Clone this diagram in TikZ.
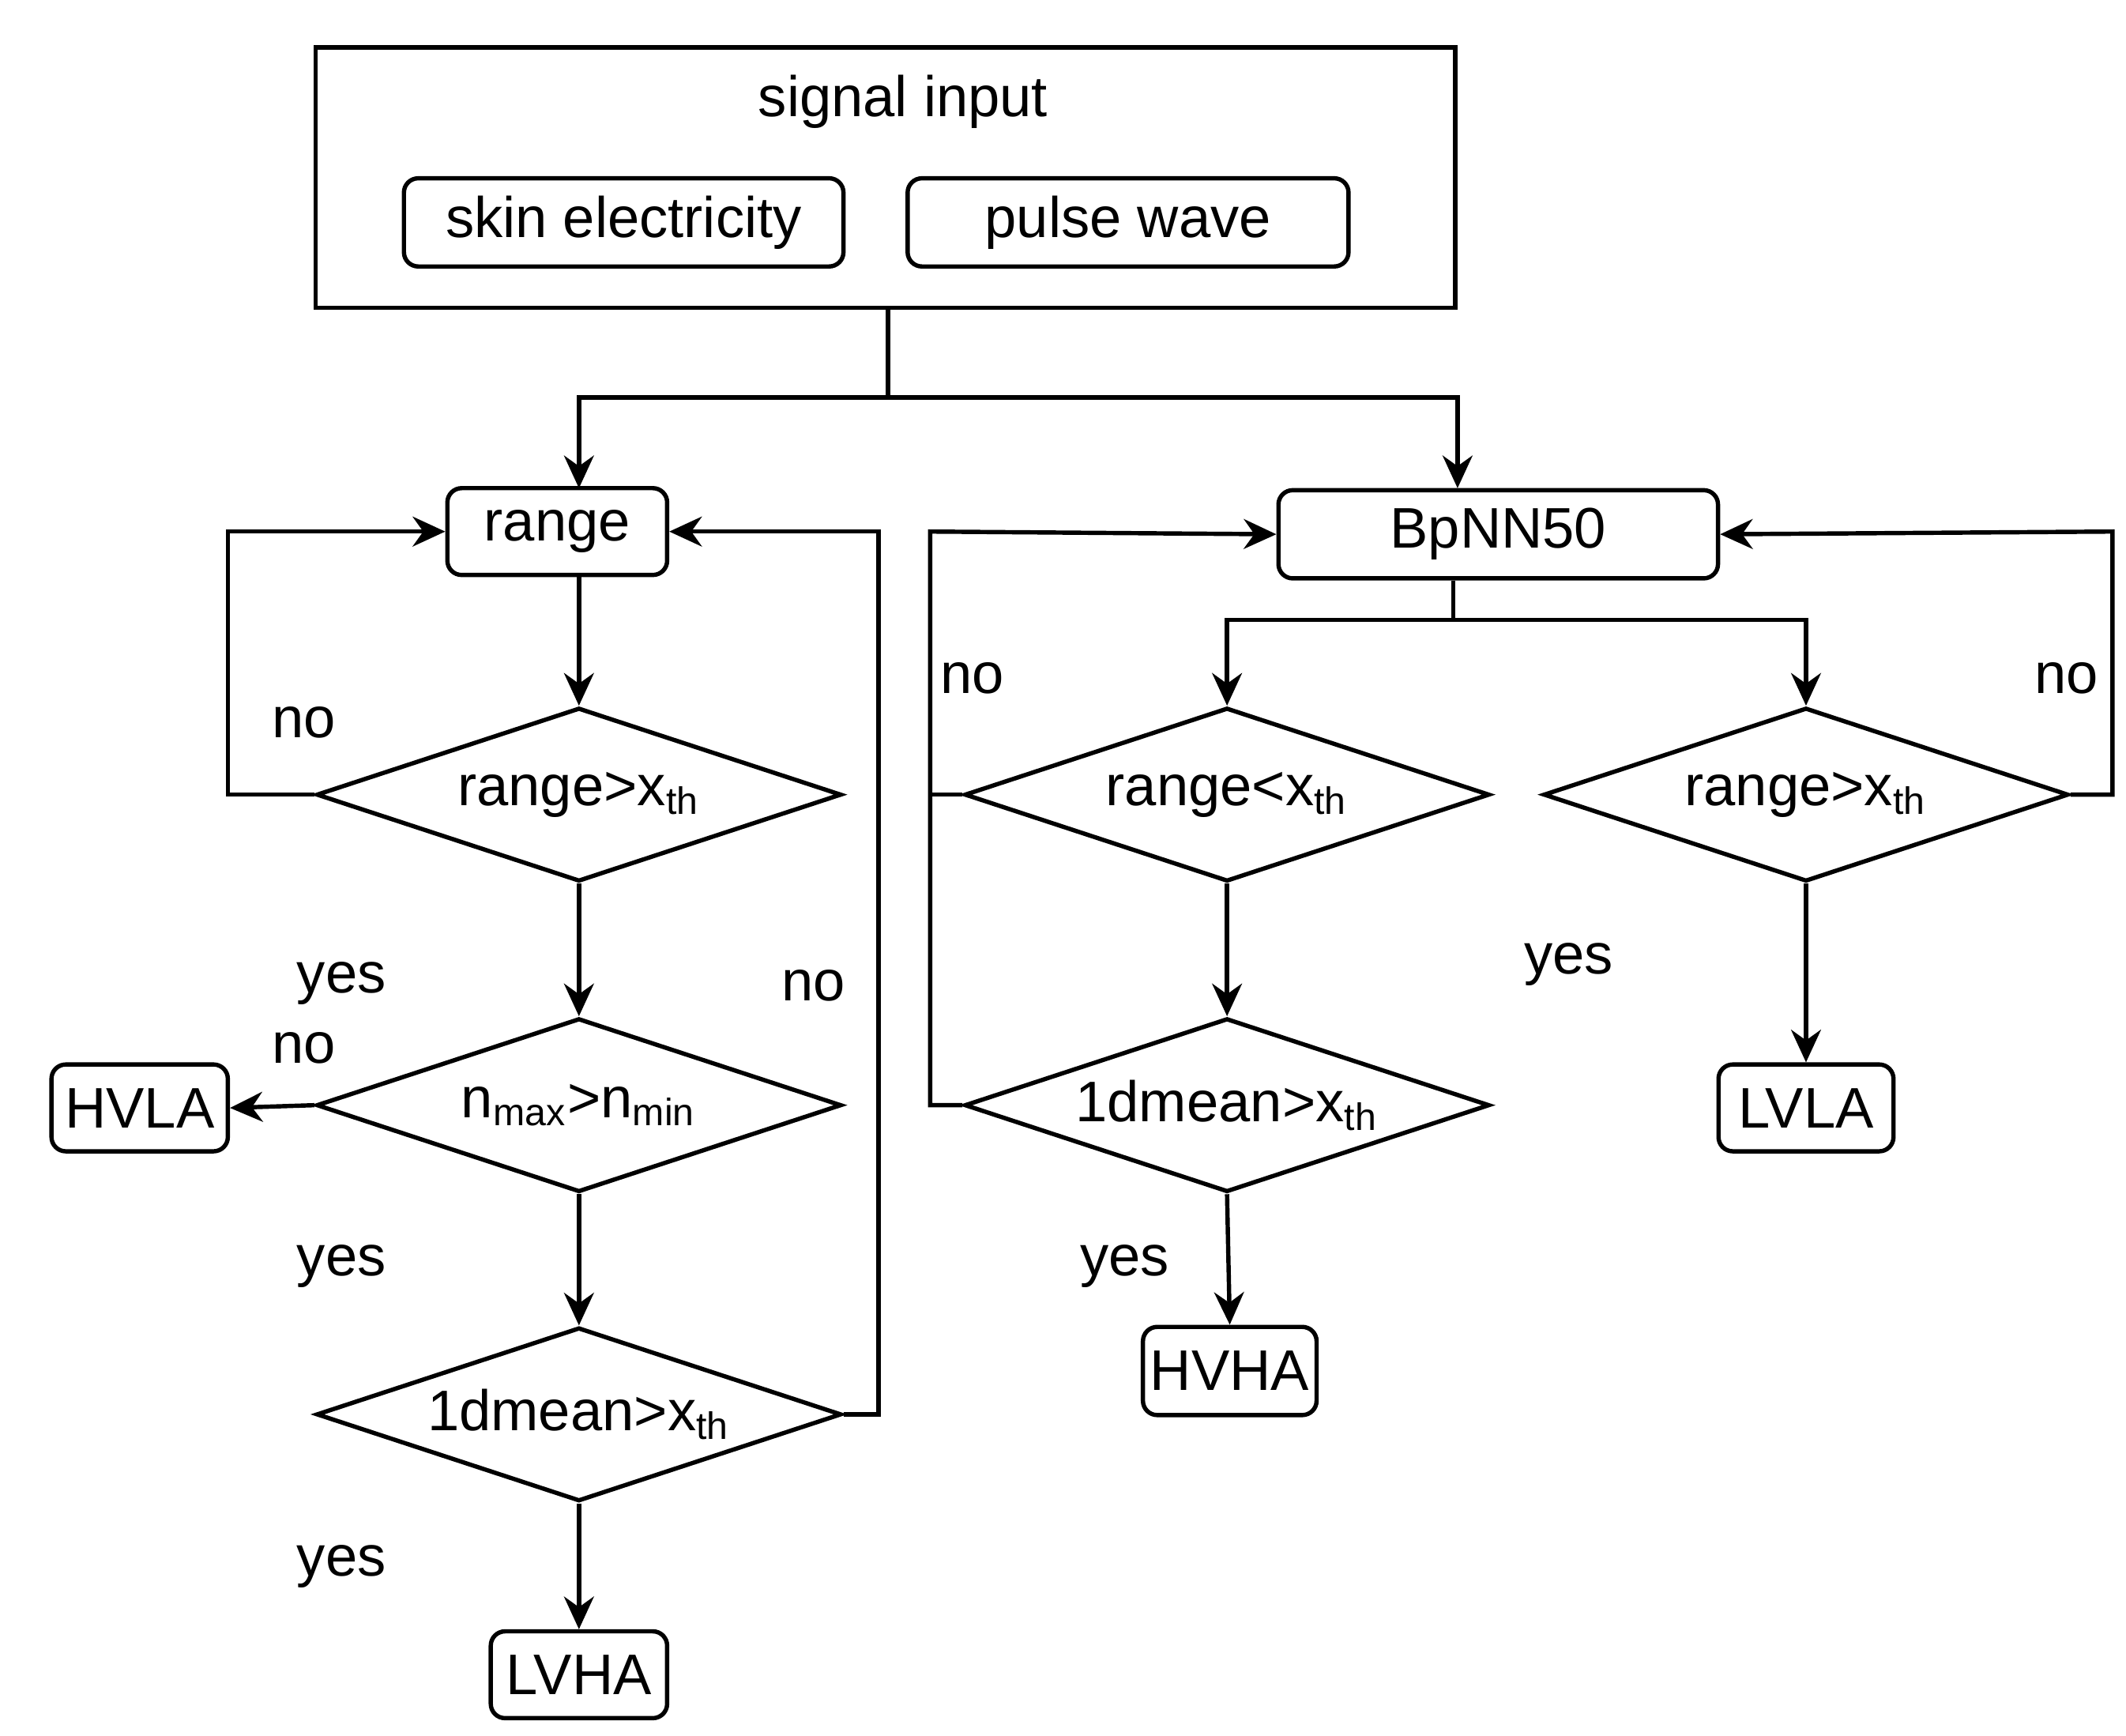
\documentclass[tikz,border=0pt]{standalone}
\usepackage{fontspec}
\setmainfont{Liberation Sans}
\usetikzlibrary{arrows.meta,positioning,shapes.geometric}

\begin{document}
\begin{tikzpicture}[x=0.01cm,y=-0.01cm,
    font=\fontsize{12}{14}\selectfont,
    line width=0.9pt,
    box/.style={rectangle, draw, rounded corners=3pt, align=center, inner sep=0pt},
    test/.style={diamond, draw, aspect=3, inner sep=0pt, minimum width=3.87cm, minimum height=1.28cm},
    arrow/.style={-{Stealth[length=2.4mm,width=2.2mm]}},
    lbl/.style={inner sep=0pt}
  ]
    \useasboundingbox (0,0) rectangle (1568,1280);

    % signal input block
    \node[draw, minimum width=8.4cm, minimum height=1.92cm, inner sep=0pt] (input) at (653,131) {};
    \node[lbl] (title) at (666,75) {signal input};
    \node[box, minimum width=3.24cm, minimum height=0.65cm] (skin) at (460,164) {skin electricity};
    \node[box, minimum width=3.25cm, minimum height=0.65cm] (pulse) at (832,164) {pulse wave};

    % left branch
    \node[box, minimum width=1.62cm, minimum height=0.64cm] (range) at (411,392) {range};
    \node[test] (t1) at (427,586) {range>x\textsubscript{th}};
    \node[test] (t2) at (427,815) {n\textsubscript{max}>n\textsubscript{min}};
    \node[test] (t3) at (427,1043) {1dmean>x\textsubscript{th}};
    \node[box, minimum width=1.3cm, minimum height=0.64cm] (lvha) at (427,1235) {LVHA};
    \node[box, minimum width=1.3cm, minimum height=0.64cm] (hvla) at (103,817) {HVLA};

    % right branch
    \node[box, minimum width=3.24cm, minimum height=0.65cm] (bpnn) at (1105,394) {BpNN50};
    \node[test] (t4) at (905,586) {range<x\textsubscript{th}};
    \node[test] (t5) at (1332,586) {range>x\textsubscript{th}};
    \node[test] (t6) at (905,815) {1dmean>x\textsubscript{th}};
    \node[box, minimum width=1.28cm, minimum height=0.65cm] (hvha) at (907,1011) {HVHA};
    \node[box, minimum width=1.29cm, minimum height=0.64cm] (lvla) at (1332,817) {LVLA};

    \coordinate (split) at (655,293);
    \coordinate (bsplit) at (1072,457);

    % connectors
    \draw (input.south -| split) -- (split);
    \draw[arrow] (split) -| (427,360);
    \draw[arrow] (split) -| (1075,360);
    \draw[arrow] (427,424) -- (t1.north);
    \draw[arrow] (t1.south) -- node[lbl, pos=0.75, left=40pt] {yes} (t2.north);
    \draw[arrow] (t2.south) -- node[lbl, pos=0.55, left=40pt] {yes} (t3.north);
    \draw[arrow] (t3.south) -- node[lbl, pos=0.5, left=40pt] {yes} (lvha.north);
    \draw[arrow] (t2.west) -- (hvla.east);
    \node[lbl] at (224,773) {no};
    \draw[arrow] (t1.west) -- (168,586) -- (168,392) -- (range.west);
    \node[lbl] at (224,533) {no};
    \draw[arrow] (t3.east) -- (648,1043) -- (648,392) -- (range.east);
    \node[lbl] at (600,727) {no};

    \draw (bpnn.south -| bsplit) -- (bsplit);
    \draw[arrow] (bsplit) -| (t4.north);
    \draw[arrow] (bsplit) -| (t5.north);
    \draw[arrow] (t4.south) -- (t6.north);
    \draw[arrow] (t6.south) -- node[lbl, pos=0.55, left=12pt] {yes} (hvha.north);
    \draw (t4.west) -- (686,586);
    \draw[arrow] (t6.west) -- (686,815) -- (686,392) -- (bpnn.west);
    \node[lbl] at (717,500) {no};
    \draw[arrow] (t5.south) -- node[lbl, pos=0.45, left=40pt] {yes} (lvla.north);
    \draw[arrow] (t5.east) -- (1558,586) -- (1558,392) -- (bpnn.east);
    \node[lbl] at (1524,500) {no};
  \end{tikzpicture}
\end{document}
